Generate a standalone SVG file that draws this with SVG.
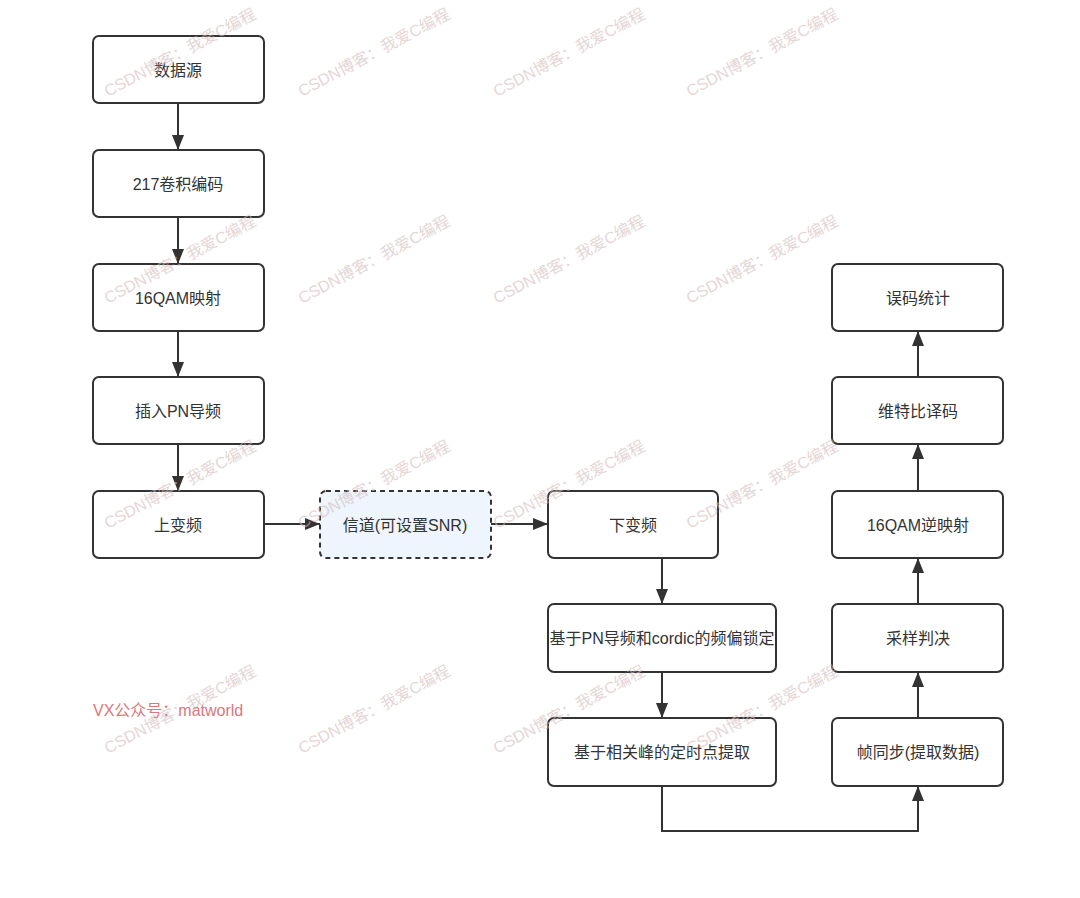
<svg xmlns="http://www.w3.org/2000/svg" width="1080" height="898" viewBox="0 0 1080 898">
<defs>
<style>
.box{fill:#fff;stroke:#333;stroke-width:2}
.dash{fill:#eef5fc;stroke:#333;stroke-width:2;stroke-dasharray:5 4}
.t{font-family:"Liberation Sans","Noto Sans CJK SC",sans-serif;font-size:16px;fill:#333;text-anchor:middle;dominant-baseline:central}
.c{fill:none;stroke:#333;stroke-width:2}
.wm{font-family:"Liberation Sans","Noto Sans CJK SC",sans-serif;font-size:16px;fill:#d4bcbc;opacity:0.6}
</style>
<marker id="a" viewBox="0 0 10 10" refX="10" refY="5" markerWidth="15" markerHeight="15" markerUnits="userSpaceOnUse" orient="auto">
<path d="M0,1 L10,5 L0,9 z" fill="#333"/>
</marker>
</defs>
<rect width="1080" height="898" fill="#fff"/>
<g id="connectors">
<line class="c" x1="178" y1="103" x2="178" y2="150" marker-end="url(#a)"/>
<line class="c" x1="178" y1="217" x2="178" y2="264" marker-end="url(#a)"/>
<line class="c" x1="178" y1="331" x2="178" y2="377" marker-end="url(#a)"/>
<line class="c" x1="178" y1="444" x2="178" y2="491" marker-end="url(#a)"/>
<line class="c" x1="264" y1="524" x2="320" y2="524" marker-end="url(#a)"/>
<line class="c" x1="491" y1="524" x2="548" y2="524" marker-end="url(#a)"/>
<line class="c" x1="662" y1="558" x2="662" y2="604" marker-end="url(#a)"/>
<line class="c" x1="662" y1="672" x2="662" y2="718" marker-end="url(#a)"/>
<polyline class="c" points="662,786 662,831 918,831 918,786" marker-end="url(#a)"/>
<line class="c" x1="918" y1="718" x2="918" y2="672" marker-end="url(#a)"/>
<line class="c" x1="918" y1="604" x2="918" y2="558" marker-end="url(#a)"/>
<line class="c" x1="918" y1="491" x2="918" y2="444" marker-end="url(#a)"/>
<line class="c" x1="918" y1="377" x2="918" y2="331" marker-end="url(#a)"/>
</g>
<g id="n1"><rect class="box" x="93" y="36" width="171" height="67" rx="6"/><text class="t" x="178" y="70">数据源</text></g>
<g id="n2"><rect class="box" x="93" y="150" width="171" height="67" rx="6"/><text class="t" x="178" y="184">217卷积编码</text></g>
<g id="n3"><rect class="box" x="93" y="264" width="171" height="67" rx="6"/><text class="t" x="178" y="298">16QAM映射</text></g>
<g id="n4"><rect class="box" x="93" y="377" width="171" height="67" rx="6"/><text class="t" x="178" y="411">插入PN导频</text></g>
<g id="n5"><rect class="box" x="93" y="491" width="171" height="67" rx="6"/><text class="t" x="178" y="525">上变频</text></g>
<g id="n6"><rect class="dash" x="320" y="491" width="171" height="67" rx="6"/><text class="t" x="405" y="525">信道(可设置SNR)</text></g>
<g id="n7"><rect class="box" x="548" y="491" width="170" height="67" rx="6"/><text class="t" x="633" y="525">下变频</text></g>
<g id="n8"><rect class="box" x="548" y="604" width="228" height="68" rx="6"/><text class="t" x="662" y="638">基于PN导频和cordic的频偏锁定</text></g>
<g id="n9"><rect class="box" x="548" y="718" width="228" height="68" rx="6"/><text class="t" x="662" y="752">基于相关峰的定时点提取</text></g>
<g id="n10"><rect class="box" x="832" y="718" width="171" height="68" rx="6"/><text class="t" x="918" y="752">帧同步(提取数据)</text></g>
<g id="n11"><rect class="box" x="832" y="604" width="171" height="68" rx="6"/><text class="t" x="918" y="638">采样判决</text></g>
<g id="n12"><rect class="box" x="832" y="491" width="171" height="67" rx="6"/><text class="t" x="918" y="525">16QAM逆映射</text></g>
<g id="n13"><rect class="box" x="832" y="377" width="171" height="67" rx="6"/><text class="t" x="918" y="411">维特比译码</text></g>
<g id="n14"><rect class="box" x="832" y="264" width="171" height="67" rx="6"/><text class="t" x="918" y="298">误码统计</text></g>
<text x="93" y="716" font-family="Liberation Sans,'Noto Sans CJK SC',sans-serif" font-size="16" fill="#d9787c">VX公众号：matworld</text>
<g id="watermarks">
<text class="wm" transform="translate(108,97) rotate(-28)">CSDN博客：我爱C编程</text>
<text class="wm" transform="translate(302,97) rotate(-28)">CSDN博客：我爱C编程</text>
<text class="wm" transform="translate(497,97) rotate(-28)">CSDN博客：我爱C编程</text>
<text class="wm" transform="translate(690,97) rotate(-28)">CSDN博客：我爱C编程</text>
<text class="wm" transform="translate(108,304) rotate(-28)">CSDN博客：我爱C编程</text>
<text class="wm" transform="translate(302,304) rotate(-28)">CSDN博客：我爱C编程</text>
<text class="wm" transform="translate(497,304) rotate(-28)">CSDN博客：我爱C编程</text>
<text class="wm" transform="translate(690,304) rotate(-28)">CSDN博客：我爱C编程</text>
<text class="wm" transform="translate(108,529) rotate(-28)">CSDN博客：我爱C编程</text>
<text class="wm" transform="translate(302,529) rotate(-28)">CSDN博客：我爱C编程</text>
<text class="wm" transform="translate(497,529) rotate(-28)">CSDN博客：我爱C编程</text>
<text class="wm" transform="translate(690,529) rotate(-28)">CSDN博客：我爱C编程</text>
<text class="wm" transform="translate(108,754) rotate(-28)">CSDN博客：我爱C编程</text>
<text class="wm" transform="translate(302,754) rotate(-28)">CSDN博客：我爱C编程</text>
<text class="wm" transform="translate(497,754) rotate(-28)">CSDN博客：我爱C编程</text>
<text class="wm" transform="translate(690,754) rotate(-28)">CSDN博客：我爱C编程</text>
</g>
</svg>
